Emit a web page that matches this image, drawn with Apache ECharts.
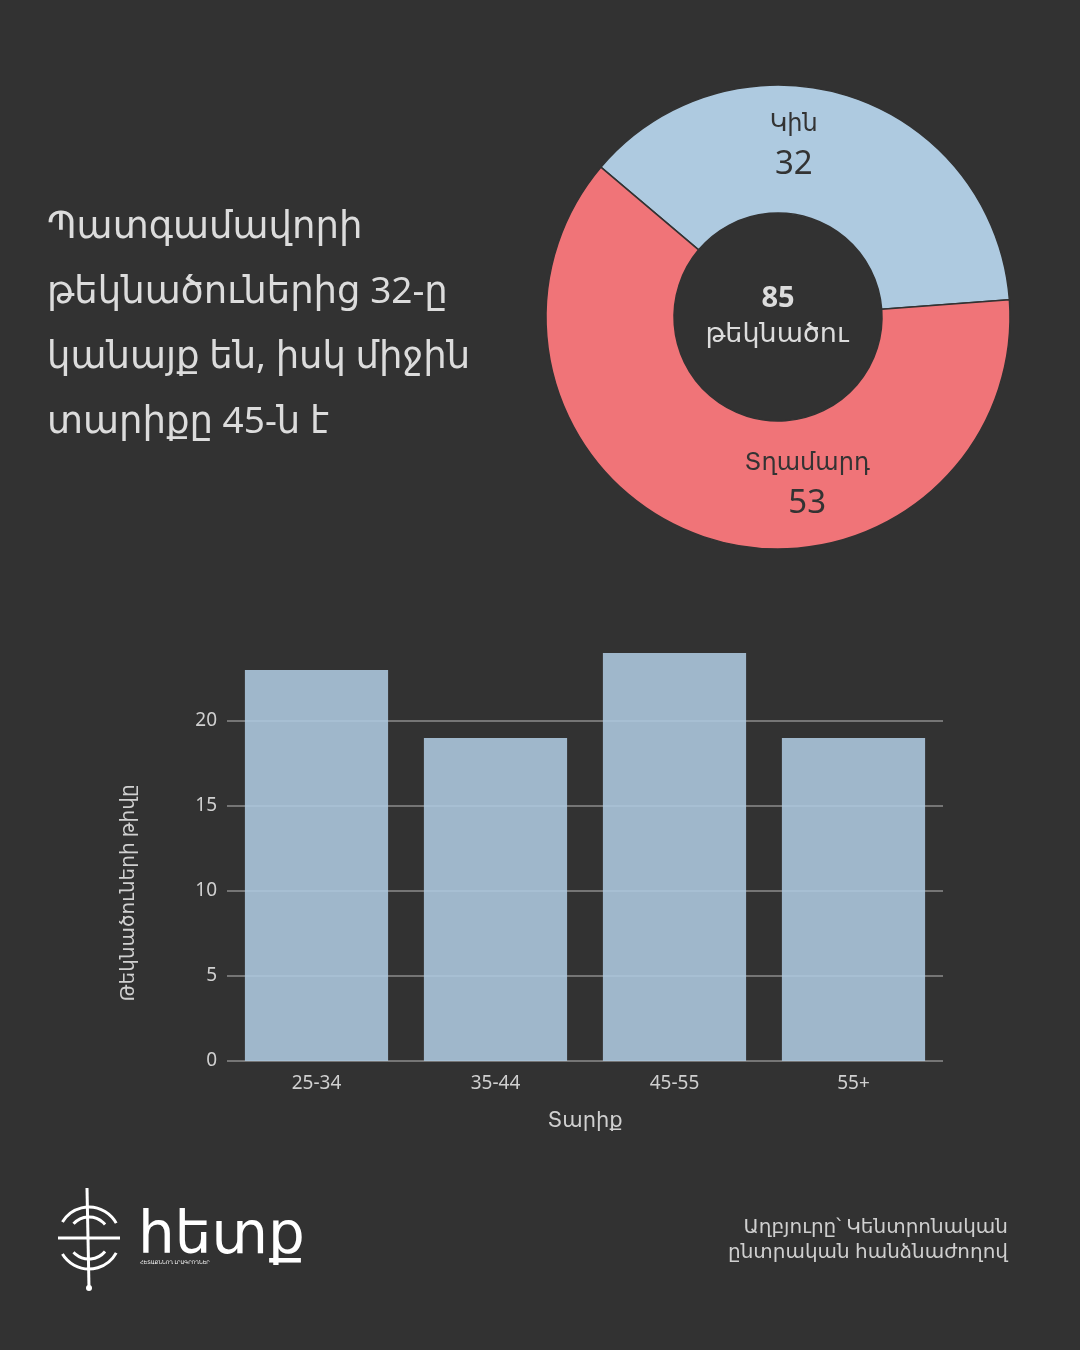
<!DOCTYPE html>
<html>
<head>
<meta charset="utf-8">
<script src="https://cdn.jsdelivr.net/npm/echarts@6/dist/echarts.min.js"></script>
<style>
  html, body { margin: 0; padding: 0; background: #323232; }
  #chart { width: 1080px; height: 1350px; }
</style>
</head>
<body>
<div id="chart"></div>
<script>
// gender split of candidates
const genderNames = ['Կին', 'Տղամարդ'];
const genderValues = [32, 53];
const genderColors = ['#AECAE0', '#F07478'];

// candidates by age group
const ageGroups = ['25-34', '35-44', '45-55', '55+'];
const ageCounts = [23, 19, 24, 19];

const headline = 'Պատգամավորի\nթեկնածուներից 32-ը\nկանայք են, իսկ միջին\nտարիքը 45-ն է';
const sourceText = 'Աղբյուրը՝ Կենտրոնական\nընտրական հանձնաժողով';
const centerCaption = 'թեկնածու';
const xName = 'Տարիք';
const yName = 'Թեկնածուների թիվը';

const FONT = "'Noto Sans', 'DejaVu Sans', sans-serif";
const total = genderValues.reduce((a, b) => a + b, 0);

const myChart = echarts.init(document.getElementById('chart'));

// label offsets for the two slices (kin / txamard)
const labelShift = [[-37, -10], [82, 4]];

const option = {
  backgroundColor: '#323232',
  textStyle: { fontFamily: FONT },
  title: {
    text: headline,
    left: 42,
    top: 190,
    textStyle: {
      color: '#dcdcdc',
      fontSize: 37,
      fontWeight: 'normal',
      lineHeight: 65,
      fontFamily: FONT,
    },
  },
  grid: {
    left: 227,
    right: 137,
    top: 653,
    bottom: 289,
  },
  xAxis: {
    type: 'category',
    data: ageGroups,
    name: xName,
    nameLocation: 'middle',
    nameGap: 50,
    nameTextStyle: { color: '#d0d0d0', fontSize: 21 },
    axisLine: { show: false },
    axisTick: { show: false },
    axisLabel: { color: '#d0d0d0', fontSize: 19, margin: 13 },
  },
  yAxis: {
    type: 'value',
    min: 0,
    max: 24,
    interval: 5,
    axisLine: { show: false },
    axisTick: { show: false },
    axisLabel: { color: '#d0d0d0', fontSize: 19, margin: 10, showMaxLabel: false },
    splitLine: {
      showMaxLine: false,
      lineStyle: { color: '#8c8c8c', width: 1.5 },
    },
  },
  graphic: [
    {
      type: 'text',
      x: 128,
      y: 893,
      rotation: Math.PI / 2,
      style: {
        text: yName,
        fill: '#d0d0d0',
        font: '20px ' + FONT,
        textAlign: 'center',
        textVerticalAlign: 'middle',
      },
    },
    // donut centre
    {
      type: 'text',
      x: 778,
      y: 299,
      style: {
        text: String(total),
        fill: '#dcdcdc',
        font: 'bold 29px ' + FONT,
        textAlign: 'center',
        textVerticalAlign: 'middle',
      },
    },
    {
      type: 'text',
      x: 777,
      y: 334,
      style: {
        text: centerCaption,
        fill: '#dcdcdc',
        font: '27px ' + FONT,
        textAlign: 'center',
        textVerticalAlign: 'middle',
      },
    },
    // source
    {
      type: 'text',
      x: 1008,
      y: 1240,
      style: {
        text: sourceText,
        fill: '#cfcfcf',
        font: '20px ' + FONT,
        lineHeight: 25,
        textAlign: 'right',
        textVerticalAlign: 'middle',
      },
    },
    // logo mark
    {
      type: 'group',
      x: 89,
      y: 1238,
      children: [
        { type: 'arc', shape: { cx: 0, cy: 0, r: 31, startAngle: -2.6, endAngle: -0.5 }, style: { stroke: '#fff', lineWidth: 3, fill: null } },
        { type: 'arc', shape: { cx: 0, cy: 0, r: 31, startAngle: 0.5, endAngle: 2.6 }, style: { stroke: '#fff', lineWidth: 3, fill: null } },
        { type: 'arc', shape: { cx: 0, cy: 0, r: 21, startAngle: -2.4, endAngle: -0.7 }, style: { stroke: '#fff', lineWidth: 3, fill: null } },
        { type: 'arc', shape: { cx: 0, cy: 0, r: 21, startAngle: 0.7, endAngle: 2.4 }, style: { stroke: '#fff', lineWidth: 3, fill: null } },
        { type: 'line', shape: { x1: -31, y1: 0, x2: 31, y2: 0 }, style: { stroke: '#fff', lineWidth: 3 } },
        { type: 'line', shape: { x1: -2, y1: -50, x2: 0, y2: 50 }, style: { stroke: '#fff', lineWidth: 3 } },
        { type: 'circle', shape: { cx: 0, cy: 50, r: 3 }, style: { fill: '#fff' } },
      ],
    },
    {
      type: 'text',
      x: 138,
      y: 1207,
      style: {
        text: 'հետք',
        fill: '#ffffff',
        font: '58px ' + FONT,
      },
    },
    {
      type: 'text',
      x: 140,
      y: 1260,
      style: {
        text: 'ՀԵՏԱՔՆՆՈՂ ԼՐԱԳՐՈՂՆԵՐ',
        fill: '#ffffff',
        font: '5px ' + FONT,
      },
    },
  ],
  series: [
    {
      type: 'pie',
      center: [778, 317],
      radius: [104, 232],
      startAngle: 4.25,
      clockwise: false,
      silent: true,
      itemStyle: { borderColor: '#323232', borderWidth: 1.5 },
      label: {
        position: 'inside',
        formatter: '{n|{b}}\n{v|{c}}',
        rich: {
          n: { color: '#333333', fontSize: 24, lineHeight: 40, fontFamily: FONT },
          v: { color: '#333333', fontSize: 33, lineHeight: 40, fontFamily: FONT },
        },
      },
      labelLayout: (params) => ({
        dx: labelShift[params.dataIndex][0],
        dy: labelShift[params.dataIndex][1],
      }),
      data: genderNames.map((name, i) => ({
        name,
        value: genderValues[i],
        itemStyle: { color: genderColors[i] },
      })),
    },
    {
      type: 'bar',
      data: ageCounts,
      barCategoryGap: '20%',
      itemStyle: { color: '#AECAE0', opacity: 0.88 },
      silent: true,
    },
  ],
};

myChart.setOption(option);
</script>
</body>
</html>
